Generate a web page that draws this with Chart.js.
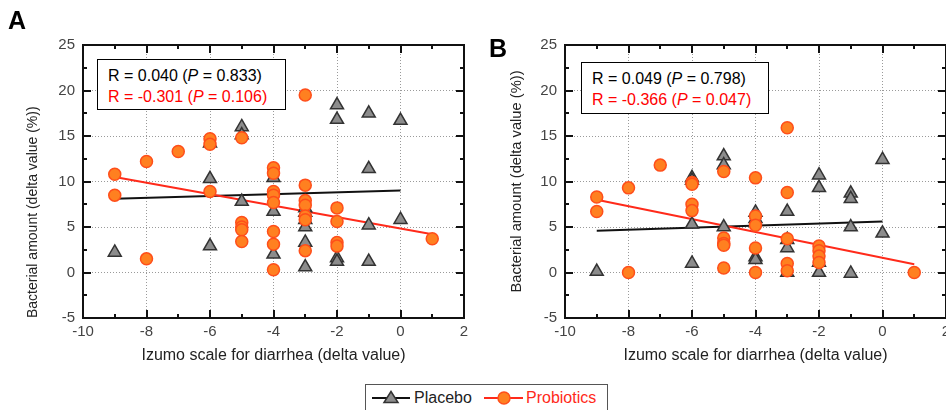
<!DOCTYPE html>
<html>
<head>
<meta charset="utf-8">
<title>Bacterial amount vs Izumo scale</title>
<script src="https://cdn.jsdelivr.net/npm/chart.js@4.4.1/dist/chart.umd.min.js"></script>
<style>
  body { margin: 0; background: #fff; font-family: "Liberation Sans", Arial, sans-serif; }
  #wrap { position: relative; width: 946px; height: 410px; overflow: hidden; }
  canvas { position: absolute; top: 0; }
  #chartA { left: 0; }
  #chartB { left: 473px; }
  .panel-letter { position: absolute; font-weight: bold; font-size: 25px; line-height: 25px; color: #000; }
  .stats { position: absolute; background: #fff; border: 1.5px solid #000; box-sizing: border-box;
           font-size: 16px; line-height: 21px; padding: 5px 0 0 10px; color: #000; white-space: nowrap; }
  .stats .neg { color: #ff0000; }
  .legend-box { position: absolute; left: 365px; top: 384px; width: 243px; height: 40px;
                border: 1px solid #555; box-sizing: border-box; }
  .legend-item { position: absolute; top: 389px; font-size: 16px; line-height: 18px; }
  .legend-sym { position: absolute; top: 390px; }
</style>
</head>
<body>
<div id="wrap">
  <canvas id="chartA" width="480" height="380"></canvas>
  <canvas id="chartB" width="490" height="380"></canvas>

  <div class="panel-letter" style="left:8px; top:8px;">A</div>
  <div class="panel-letter" style="left:489px; top:36px;">B</div>

  <div class="stats" style="left:97px; top:59px; width:189px; height:51px;">
    R = 0.040 (<i>P</i> = 0.833)<br><span class="neg">R = -0.301 (<i>P</i> = 0.106)</span>
  </div>
  <div class="stats" style="left:581px; top:62px; width:188px; height:52px;">
    R = 0.049 (<i>P</i> = 0.798)<br><span class="neg">R = -0.366 (<i>P</i> = 0.047)</span>
  </div>

  <div class="legend-box"></div>
  <svg class="legend-sym" style="left:372px;" width="40" height="16">
    <line x1="0" y1="8" x2="38" y2="8" stroke="#111" stroke-width="2"/>
    <polygon points="19,1.5 26,12.5 12,12.5" fill="#8c8c8c" stroke="#333" stroke-width="1.5"/>
  </svg>
  <div class="legend-item" style="left:414px; color:#222;">Placebo</div>
  <svg class="legend-sym" style="left:484px;" width="40" height="16">
    <line x1="0" y1="8" x2="39" y2="8" stroke="#ff2a1a" stroke-width="2"/>
    <circle cx="20" cy="8" r="6" fill="#ff8020" stroke="#ff4e1a" stroke-width="1.5"/>
  </svg>
  <div class="legend-item" style="left:526px; color:#ff2a1a;">Probiotics</div>
</div>

<script>
// axis ticks and titles
const xTicks = [-10, -8, -6, -4, -2, 0, 2];
const yTicks = [-5, 0, 5, 10, 15, 20, 25];
const xTitle = "Izumo scale for diarrhea (delta value)";
const yTitle = "Bacterial amount (delta value (%))";

// panel A
const aPlaceboX = [-9, -6, -6, -6, -5, -5, -5, -4, -4, -4, -3, -3, -3, -3, -3, -3, -2, -2, -2, -2, -1, -1, -1, -1, 0, 0];
const aPlaceboY = [2.2, 14.2, 10.3, 2.9, 16.0, 15.1, 7.8, 10.4, 6.7, 2.0, 7.1, 6.6, 5.8, 5.0, 3.3, 0.6, 18.4, 16.8, 1.6, 1.2, 17.5, 11.4, 5.2, 1.2, 16.7, 5.8];
const aProbioticsX = [-9, -9, -8, -8, -7, -6, -6, -6, -5, -5, -5, -5, -5, -4, -4, -4, -4, -4, -4, -4, -4, -3, -3, -3, -3, -3, -3, -3, -2, -2, -2, -2, 1];
const aProbioticsY = [10.8, 8.5, 12.2, 1.5, 13.3, 14.7, 14.1, 8.9, 14.8, 5.5, 5.0, 4.7, 3.4, 11.5, 10.9, 8.9, 8.5, 7.7, 4.5, 3.1, 0.3, 19.5, 9.6, 7.9, 7.4, 6.2, 5.8, 2.4, 7.1, 5.6, 3.3, 2.9, 3.7];
const aPlaceboFitX = [-9, 0];
const aPlaceboFitY = [8.1, 9.0];
const aProbioticsFitX = [-9, 1];
const aProbioticsFitY = [10.5, 4.2];

// panel B
const bPlaceboX = [-9, -6, -6, -6, -6, -5, -5, -5, -4, -4, -4, -4, -3, -3, -3, -3, -2, -2, -2, -2, -1, -1, -1, -1, 0, 0];
const bPlaceboY = [0.1, 10.4, 10.1, 5.3, 1.0, 12.8, 11.8, 5.0, 6.6, 5.9, 1.7, 1.4, 6.7, 3.6, 2.7, 0.0, 10.7, 9.3, 1.1, 0.0, 8.7, 8.1, 5.0, -0.1, 12.4, 4.3];
const bProbioticsX = [-9, -9, -8, -8, -7, -6, -6, -6, -6, -5, -5, -5, -5, -5, -4, -4, -4, -4, -4, -3, -3, -3, -3, -3, -2, -2, -2, -2, 1];
const bProbioticsY = [8.3, 6.7, 9.3, 0.0, 11.8, 9.9, 9.7, 7.5, 6.8, 11.1, 3.8, 3.2, 3.0, 0.5, 10.4, 6.2, 5.2, 2.7, 0.0, 15.9, 8.8, 3.7, 1.0, 0.2, 2.9, 2.4, 1.8, 1.1, 0.0];
const bPlaceboFitX = [-9, 0];
const bPlaceboFitY = [4.6, 5.6];
const bProbioticsFitX = [-9, 1];
const bProbioticsFitY = [8.0, 0.9];

const toPoints = (xs, ys) => xs.map((x, i) => ({ x: x, y: ys[i] }));

// frame round the plot area with the short inward ticks
const frameTicks = {
    id: "frameTicks",
    afterDraw(chart) {
        const { ctx, chartArea: a, scales: { x, y } } = chart;
        ctx.save();
        ctx.strokeStyle = "#111";
        ctx.lineWidth = 2;
        ctx.strokeRect(a.left, a.top, a.right - a.left, a.bottom - a.top);
        ctx.beginPath();
        for (let v = x.min; v <= x.max; v += 1) {
            const px = Math.round(x.getPixelForValue(v));
            const len = v % 2 === 0 ? 8 : 4;
            ctx.moveTo(px, a.bottom); ctx.lineTo(px, a.bottom - len);
            ctx.moveTo(px, a.top); ctx.lineTo(px, a.top + len);
        }
        for (let v = y.min; v <= y.max; v += 2.5) {
            const py = Math.round(y.getPixelForValue(v));
            const len = v % 5 === 0 ? 8 : 4;
            ctx.moveTo(a.left, py); ctx.lineTo(a.left + len, py);
            ctx.moveTo(a.right, py); ctx.lineTo(a.right - len, py);
        }
        ctx.stroke();
        ctx.restore();
    }
};

Chart.defaults.font.family = '"Liberation Sans", Arial, sans-serif';

function buildChart(canvasId, p) {
    const ctx = document.getElementById(canvasId);
    return new Chart(ctx, {
        type: "scatter",
        data: {
            datasets: [
                {
                    label: "Probiotics",
                    data: toPoints(p.probX, p.probY),
                    pointStyle: "circle",
                    pointRadius: 6,
                    backgroundColor: "#ff8020",
                    borderColor: "#ff4e1a",
                    borderWidth: 1.5,
                    order: 0
                },
                {
                    label: "Placebo",
                    data: toPoints(p.placX, p.placY),
                    pointStyle: "triangle",
                    pointRadius: 7.5,
                    backgroundColor: "#8c8c8c",
                    borderColor: "#333333",
                    borderWidth: 1.5,
                    order: 1
                },
                {
                    type: "line",
                    label: "Probiotics fit",
                    data: toPoints(p.probFitX, p.probFitY),
                    borderColor: "#ff2a1a",
                    borderWidth: 2,
                    pointRadius: 0,
                    fill: false,
                    order: 2
                },
                {
                    type: "line",
                    label: "Placebo fit",
                    data: toPoints(p.placFitX, p.placFitY),
                    borderColor: "#111111",
                    borderWidth: 2,
                    pointRadius: 0,
                    fill: false,
                    order: 3
                }
            ]
        },
        options: {
            responsive: false,
            animation: false,
            layout: { padding: { top: 45, right: p.padRight, left: 0, bottom: 0 } },
            plugins: {
                legend: { display: false },
                tooltip: { enabled: false }
            },
            scales: {
                x: {
                    type: "linear",
                    min: -10,
                    max: 2,
                    afterBuildTicks: s => { s.ticks = xTicks.map(v => ({ value: v })); },
                    afterFit: s => { s.height = 62; s.paddingLeft = 0; s.paddingRight = 0; },
                    grid: { color: "#9a9a9a", lineWidth: 1, drawTicks: false },
                    border: { display: false, dash: [1, 2] },
                    ticks: { color: "#444", font: { size: 15 }, padding: 5, autoSkip: false, maxRotation: 0 },
                    title: { display: true, text: xTitle, color: "#222", font: { size: 16 }, padding: { top: 0, bottom: 15 } }
                },
                y: {
                    type: "linear",
                    min: -5,
                    max: 25,
                    afterBuildTicks: s => { s.ticks = yTicks.map(v => ({ value: v })); },
                    afterFit: s => { s.width = p.yWidth; s.paddingTop = 0; s.paddingBottom = 0; },
                    grid: { color: "#9a9a9a", lineWidth: 1, drawTicks: false },
                    border: { display: false, dash: [1, 2] },
                    ticks: { color: "#444", font: { size: 15 }, padding: 8 },
                    title: { display: true, text: yTitle, color: "#222", font: { size: p.yTitleSize },
                             align: p.yTitleAlign, padding: { top: p.yTitlePad, bottom: 0 } }
                }
            }
        },
        plugins: [frameTicks]
    });
}

document.addEventListener("DOMContentLoaded", () => {
    buildChart("chartA", {
        placX: aPlaceboX, placY: aPlaceboY, probX: aProbioticsX, probY: aProbioticsY,
        placFitX: aPlaceboFitX, placFitY: aPlaceboFitY, probFitX: aProbioticsFitX, probFitY: aProbioticsFitY,
        padRight: 16, yWidth: 83, yTitleSize: 14, yTitleAlign: "start", yTitlePad: 24.6
    });
    buildChart("chartB", {
        placX: bPlaceboX, placY: bPlaceboY, probX: bProbioticsX, probY: bProbioticsY,
        placFitX: bPlaceboFitX, placFitY: bPlaceboFitY, probFitX: bProbioticsFitX, probFitY: bProbioticsFitY,
        padRight: 17, yWidth: 92, yTitleSize: 14.7, yTitleAlign: "center", yTitlePad: 35.2
    });
});
</script>
</body>
</html>
